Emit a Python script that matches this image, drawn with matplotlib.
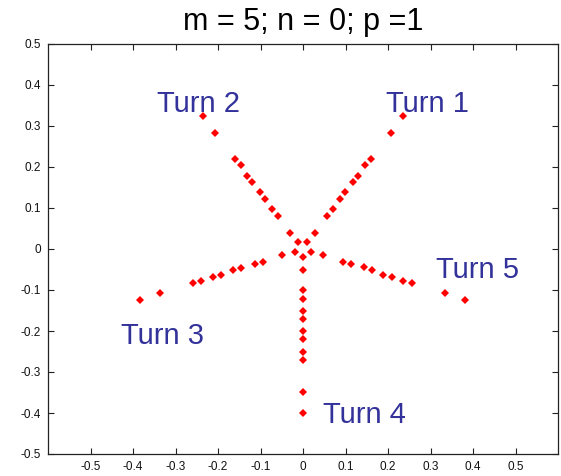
import numpy as np
import matplotlib
matplotlib.use('Agg')
import matplotlib.pyplot as plt

plt.rcParams['font.family'] = ['Liberation Sans', 'DejaVu Sans']

# 五条臂上的点 (m = 5)
turn1_x = [0.010, 0.029, 0.057, 0.070, 0.087, 0.099, 0.117, 0.129, 0.146, 0.159, 0.207, 0.235]
turn1_y = [0.016, 0.040, 0.080, 0.098, 0.122, 0.140, 0.164, 0.178, 0.205, 0.219, 0.283, 0.324]
turn2_x = [-0.012, -0.031, -0.059, -0.072, -0.089, -0.101, -0.120, -0.131, -0.147, -0.161, -0.208, -0.236]
turn2_y = [0.016, 0.040, 0.080, 0.098, 0.122, 0.140, 0.163, 0.178, 0.204, 0.219, 0.283, 0.324]
turn3_x = [-0.020, -0.049, -0.095, -0.114, -0.145, -0.164, -0.192, -0.211, -0.239, -0.258, -0.336, -0.383]
turn3_y = [-0.007, -0.015, -0.031, -0.037, -0.046, -0.051, -0.063, -0.068, -0.078, -0.084, -0.107, -0.124]
turn4_x = [0.0] * 12
turn4_y = [-0.019, -0.050, -0.101, -0.121, -0.150, -0.171, -0.200, -0.220, -0.250, -0.271, -0.349, -0.400]
turn5_x = [0.018, 0.046, 0.093, 0.112, 0.143, 0.162, 0.189, 0.209, 0.236, 0.256, 0.333, 0.380]
turn5_y = [-0.007, -0.015, -0.031, -0.037, -0.045, -0.051, -0.063, -0.068, -0.077, -0.084, -0.107, -0.124]

turn_labels = ['Turn 1', 'Turn 2', 'Turn 3', 'Turn 4', 'Turn 5']
label_x = [0.195, -0.343, -0.428, 0.047, 0.313]
label_y = [0.334, 0.334, -0.232, -0.425, -0.071]

fig = plt.figure(figsize=(5.61, 4.76), dpi=100)
ax = fig.add_axes([48/561, 22/476, 510/561, 410/476])

for xs, ys in [(turn1_x, turn1_y), (turn2_x, turn2_y), (turn3_x, turn3_y),
               (turn4_x, turn4_y), (turn5_x, turn5_y)]:
    ax.plot(xs, ys, 'D', color='red', markersize=3.6, markeredgewidth=0, linestyle='none')

for t, tx, ty in zip(turn_labels, label_x, label_y):
    ax.text(tx, ty, t, fontsize=21, color='#32329a', ha='left', va='baseline')

ax.set_xlim(-0.6, 0.6)
ax.set_ylim(-0.5, 0.5)
ax.set_xticks(np.arange(-5, 6) / 10)
ax.set_yticks(np.arange(-5, 6) / 10)
ax.set_xticklabels(['-0.5', '-0.4', '-0.3', '-0.2', '-0.1', '0', '0.1', '0.2', '0.3', '0.4', '0.5'])
ax.set_yticklabels(['-0.5', '-0.4', '-0.3', '-0.2', '-0.1', '0', '0.1', '0.2', '0.3', '0.4', '0.5'])
ax.tick_params(direction='in', length=4, width=0.8, labelsize=8.5, top=True, right=True,
               color='#222222', labelcolor='#111111', pad=5)
for s in ax.spines.values():
    s.set_color('#222222')
    s.set_linewidth(0.9)

ax.set_title('m = 5; n = 0; p =1', fontsize=22, pad=10)

fig.savefig('out.png', dpi=100)
